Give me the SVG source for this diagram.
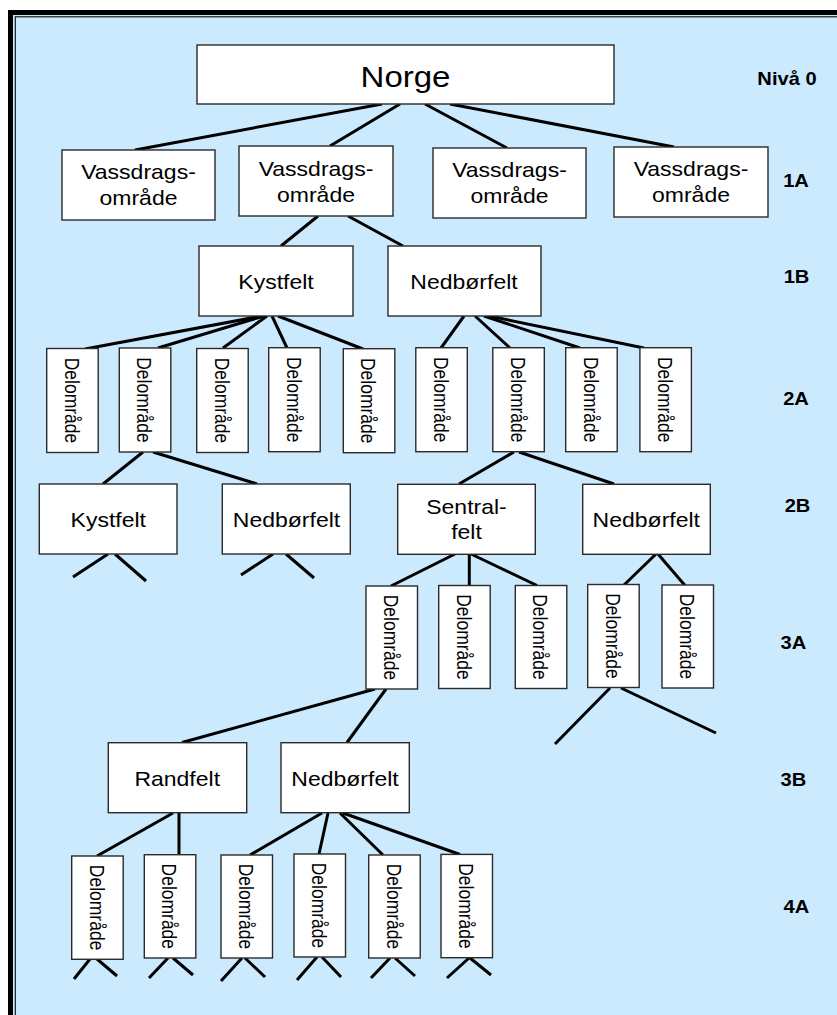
<svg xmlns="http://www.w3.org/2000/svg" width="837" height="1015" viewBox="0 0 837 1015">
<style>
.box{fill:#fff;stroke:#2a2a2a;stroke-width:1.4}
.ln{stroke:#000;stroke-width:3;fill:none;stroke-linecap:butt}
.t{font-family:"Liberation Sans",Arial,sans-serif;font-size:20px;fill:#000;text-anchor:middle}
.big{font-size:30px}
.v{font-family:"Liberation Sans",Arial,sans-serif;font-size:17.5px;fill:#000;text-anchor:middle}
.lvl{font-family:"Liberation Sans",Arial,sans-serif;font-size:17.5px;font-weight:bold;fill:#000;text-anchor:middle}
</style>
<rect x="0" y="0" width="837" height="1015" fill="#fff"/>
<rect x="10.5" y="12.5" width="900" height="1100" fill="#cceafd" stroke="#000" stroke-width="5"/>
<rect x="15.3" y="16.8" width="900" height="1100" fill="none" stroke="#1a1a1a" stroke-width="1.2"/>

<g id="connectors">
<line class="ln" x1="382" y1="104" x2="135" y2="150"/>
<line class="ln" x1="400" y1="104" x2="330" y2="146"/>
<line class="ln" x1="425" y1="104" x2="507" y2="148"/>
<line class="ln" x1="450" y1="104" x2="674" y2="147"/>
<line class="ln" x1="318" y1="216" x2="281" y2="246"/>
<line class="ln" x1="348" y1="216" x2="403" y2="246"/>
<line class="ln" x1="262" y1="316" x2="85" y2="349"/>
<line class="ln" x1="264" y1="316" x2="158" y2="348"/>
<line class="ln" x1="267" y1="316" x2="223" y2="348"/>
<line class="ln" x1="272" y1="316" x2="287" y2="348"/>
<line class="ln" x1="278" y1="316" x2="363" y2="349"/>
<line class="ln" x1="464" y1="316" x2="441" y2="348"/>
<line class="ln" x1="475" y1="316" x2="510" y2="348"/>
<line class="ln" x1="484" y1="316" x2="580" y2="348"/>
<line class="ln" x1="489" y1="316" x2="644" y2="348"/>
<line class="ln" x1="143" y1="452" x2="103" y2="484"/>
<line class="ln" x1="153" y1="452" x2="257" y2="484"/>
<line class="ln" x1="108" y1="554" x2="73" y2="577"/>
<line class="ln" x1="115" y1="554" x2="146" y2="581"/>
<line class="ln" x1="273" y1="554" x2="241" y2="575"/>
<line class="ln" x1="286" y1="554" x2="314" y2="578"/>
<line class="ln" x1="514" y1="452" x2="459" y2="484"/>
<line class="ln" x1="519" y1="452" x2="614" y2="484"/>
<line class="ln" x1="455" y1="554" x2="391" y2="586"/>
<line class="ln" x1="469.3" y1="554" x2="469.3" y2="585.5"/>
<line class="ln" x1="471" y1="554" x2="537" y2="585.5"/>
<line class="ln" x1="656" y1="554" x2="624" y2="585"/>
<line class="ln" x1="658" y1="554" x2="685" y2="585.5"/>
<line class="ln" x1="610" y1="688" x2="555" y2="744"/>
<line class="ln" x1="621" y1="688" x2="716" y2="733"/>
<line class="ln" x1="375" y1="689" x2="182" y2="742.5"/>
<line class="ln" x1="386" y1="689" x2="347" y2="742.5"/>
<line class="ln" x1="173" y1="813" x2="97" y2="856"/>
<line class="ln" x1="179" y1="813" x2="179" y2="855"/>
<line class="ln" x1="322" y1="813" x2="250" y2="855"/>
<line class="ln" x1="328" y1="813" x2="319" y2="854"/>
<line class="ln" x1="340" y1="813" x2="383" y2="855"/>
<line class="ln" x1="343" y1="813" x2="460" y2="854.5"/>
<line class="ln" x1="90" y1="959" x2="74" y2="979"/>
<line class="ln" x1="97" y1="959" x2="117" y2="976"/>
<line class="ln" x1="168" y1="958" x2="149" y2="978"/>
<line class="ln" x1="173" y1="958" x2="193" y2="975"/>
<line class="ln" x1="242" y1="958" x2="221" y2="981"/>
<line class="ln" x1="245" y1="958" x2="265" y2="977"/>
<line class="ln" x1="317" y1="957" x2="297" y2="980"/>
<line class="ln" x1="322" y1="957" x2="341" y2="977"/>
<line class="ln" x1="390" y1="958" x2="371" y2="978"/>
<line class="ln" x1="395" y1="958" x2="415" y2="976"/>
<line class="ln" x1="469" y1="958" x2="447" y2="978"/>
<line class="ln" x1="470" y1="958" x2="491" y2="975"/>
</g>

<g id="norge"><rect class="box" x="197" y="45" width="417" height="59"/><text class="t big" transform="translate(405.5,87) scale(1.1,1)">Norge</text></g>

<g id="vo1"><rect class="box" x="62" y="150" width="153" height="70"/><text class="t" transform="translate(138.5,179.3) scale(1.15,1)">Vassdrags-</text><text class="t" transform="translate(138.5,204.7) scale(1.15,1)">område</text></g>
<g id="vo2"><rect class="box" x="239" y="146" width="154" height="70"/><text class="t" transform="translate(316,176) scale(1.15,1)">Vassdrags-</text><text class="t" transform="translate(316,201.7) scale(1.15,1)">område</text></g>
<g id="vo3"><rect class="box" x="433" y="148" width="153" height="70"/><text class="t" transform="translate(509.5,177) scale(1.15,1)">Vassdrags-</text><text class="t" transform="translate(509.5,203) scale(1.15,1)">område</text></g>
<g id="vo4"><rect class="box" x="614" y="147" width="154" height="70"/><text class="t" transform="translate(691,176) scale(1.15,1)">Vassdrags-</text><text class="t" transform="translate(691,201.7) scale(1.15,1)">område</text></g>

<g id="kyst1b"><rect class="box" x="199" y="246" width="154" height="70"/><text class="t" transform="translate(276,289.3) scale(1.15,1)">Kystfelt</text></g>
<g id="ned1b"><rect class="box" x="388" y="246" width="153" height="70"/><text class="t" transform="translate(464,289.3) scale(1.15,1)">Nedbørfelt</text></g>

<g id="d2a1"><rect class="box" x="46.7" y="348.5" width="51.5" height="104"/><text class="v" transform="translate(72.5,400.5) scale(1.2,1) rotate(90)" y="6.3">Delområde</text></g>
<g id="d2a2"><rect class="box" x="119.3" y="348" width="51.5" height="104"/><text class="v" transform="translate(145,400) scale(1.2,1) rotate(90)" y="6.3">Delområde</text></g>
<g id="d2a3"><rect class="box" x="196.7" y="348.5" width="51.5" height="104"/><text class="v" transform="translate(222.5,400.5) scale(1.2,1) rotate(90)" y="6.3">Delområde</text></g>
<g id="d2a4"><rect class="box" x="268.7" y="347.7" width="51.5" height="104"/><text class="v" transform="translate(294.5,399.7) scale(1.2,1) rotate(90)" y="6.3">Delområde</text></g>
<g id="d2a5"><rect class="box" x="343.3" y="348.7" width="51.5" height="104"/><text class="v" transform="translate(369,400.7) scale(1.2,1) rotate(90)" y="6.3">Delområde</text></g>
<g id="d2a6"><rect class="box" x="415.8" y="347.7" width="51.5" height="104"/><text class="v" transform="translate(441.5,399.7) scale(1.2,1) rotate(90)" y="6.3">Delområde</text></g>
<g id="d2a7"><rect class="box" x="492.8" y="347.7" width="51.5" height="104"/><text class="v" transform="translate(518.5,399.7) scale(1.2,1) rotate(90)" y="6.3">Delområde</text></g>
<g id="d2a8"><rect class="box" x="565.7" y="347.7" width="51.5" height="104"/><text class="v" transform="translate(591.5,399.7) scale(1.2,1) rotate(90)" y="6.3">Delområde</text></g>
<g id="d2a9"><rect class="box" x="639.9" y="347.7" width="51.5" height="104"/><text class="v" transform="translate(665.7,399.7) scale(1.2,1) rotate(90)" y="6.3">Delområde</text></g>

<g id="kyst2b"><rect class="box" x="39.3" y="484" width="137.7" height="70"/><text class="t" transform="translate(108.3,527.3) scale(1.15,1)">Kystfelt</text></g>
<g id="ned2b1"><rect class="box" x="222.3" y="484" width="128" height="70"/><text class="t" transform="translate(286.5,527.3) scale(1.15,1)">Nedbørfelt</text></g>
<g id="sentral"><rect class="box" x="397.7" y="484.3" width="137.6" height="70"/><text class="t" transform="translate(466.5,514) scale(1.15,1)">Sentral-</text><text class="t" transform="translate(466.5,539.3) scale(1.15,1)">felt</text></g>
<g id="ned2b2"><rect class="box" x="582.7" y="484.3" width="127.6" height="70"/><text class="t" transform="translate(646.3,527.3) scale(1.15,1)">Nedbørfelt</text></g>

<g id="d3a1"><rect class="box" x="366" y="586" width="51.5" height="103"/><text class="v" transform="translate(391.7,637.5) scale(1.2,1) rotate(90)" y="6.3">Delområde</text></g>
<g id="d3a2"><rect class="box" x="438.7" y="585.5" width="51.5" height="103"/><text class="v" transform="translate(464.5,637) scale(1.2,1) rotate(90)" y="6.3">Delområde</text></g>
<g id="d3a3"><rect class="box" x="515.3" y="585.5" width="51.5" height="103"/><text class="v" transform="translate(541,637) scale(1.2,1) rotate(90)" y="6.3">Delområde</text></g>
<g id="d3a4"><rect class="box" x="587.7" y="584.5" width="51.5" height="103"/><text class="v" transform="translate(613.5,636) scale(1.2,1) rotate(90)" y="6.3">Delområde</text></g>
<g id="d3a5"><rect class="box" x="662" y="585" width="51.5" height="103"/><text class="v" transform="translate(687.8,636.5) scale(1.2,1) rotate(90)" y="6.3">Delområde</text></g>

<g id="rand3b"><rect class="box" x="108.3" y="742.7" width="138.4" height="70"/><text class="t" transform="translate(177.2,786) scale(1.15,1)">Randfelt</text></g>
<g id="ned3b"><rect class="box" x="281" y="742.7" width="128.3" height="70"/><text class="t" transform="translate(345,786) scale(1.15,1)">Nedbørfelt</text></g>

<g id="d4a1"><rect class="box" x="71.7" y="856" width="51.5" height="103.3"/><text class="v" transform="translate(97.5,907.6) scale(1.2,1) rotate(90)" y="6.3">Delområde</text></g>
<g id="d4a2"><rect class="box" x="144.3" y="854.7" width="51.5" height="103.3"/><text class="v" transform="translate(170,906.3) scale(1.2,1) rotate(90)" y="6.3">Delområde</text></g>
<g id="d4a3"><rect class="box" x="221" y="855" width="51.5" height="103"/><text class="v" transform="translate(246.8,906.5) scale(1.2,1) rotate(90)" y="6.3">Delområde</text></g>
<g id="d4a4"><rect class="box" x="294" y="854" width="51.5" height="103"/><text class="v" transform="translate(319.8,905.5) scale(1.2,1) rotate(90)" y="6.3">Delområde</text></g>
<g id="d4a5"><rect class="box" x="368.7" y="855" width="51.5" height="103"/><text class="v" transform="translate(394.5,906.5) scale(1.2,1) rotate(90)" y="6.3">Delområde</text></g>
<g id="d4a6"><rect class="box" x="441" y="854.4" width="51.5" height="103.3"/><text class="v" transform="translate(466.8,906) scale(1.2,1) rotate(90)" y="6.3">Delområde</text></g>

<g id="levels">
<text class="lvl" transform="translate(787,85) scale(1.15,1)">Nivå 0</text>
<text class="lvl" transform="translate(796,186.7) scale(1.15,1)">1A</text>
<text class="lvl" transform="translate(796.5,282.7) scale(1.15,1)">1B</text>
<text class="lvl" transform="translate(796,405) scale(1.15,1)">2A</text>
<text class="lvl" transform="translate(797.5,511.7) scale(1.15,1)">2B</text>
<text class="lvl" transform="translate(793.3,649.3) scale(1.15,1)">3A</text>
<text class="lvl" transform="translate(793.3,785.7) scale(1.15,1)">3B</text>
<text class="lvl" transform="translate(796.3,912.7) scale(1.15,1)">4A</text>
</g>
</svg>
